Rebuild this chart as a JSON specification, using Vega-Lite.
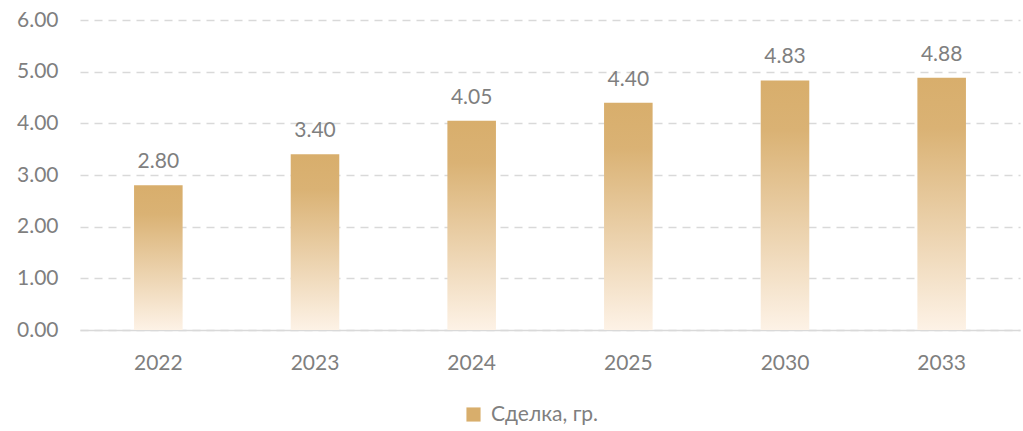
{
  "$schema": "https://vega.github.io/schema/vega-lite/v6.json",
  "width": 940,
  "height": 310,
  "autosize": {"type": "none"},
  "padding": {"left": 80, "top": 20, "right": 3, "bottom": 101},
  "background": "white",
  "data": {
    "values": [
      {"year": "2022", "value": 2.80, "series": "Сделка, гр."},
      {"year": "2023", "value": 3.40, "series": "Сделка, гр."},
      {"year": "2024", "value": 4.05, "series": "Сделка, гр."},
      {"year": "2025", "value": 4.40, "series": "Сделка, гр."},
      {"year": "2030", "value": 4.83, "series": "Сделка, гр."},
      {"year": "2033", "value": 4.88, "series": "Сделка, гр."}
    ]
  },
  "config": {
    "font": "Lato",
    "view": {"stroke": null}
  },
  "encoding": {
    "x": {
      "field": "year", "type": "nominal", "sort": null,
      "scale": {"paddingInner": 0.69, "paddingOuter": 0.345},
      "axis": {
        "title": null, "labelAngle": 0, "ticks": false,
        "domainColor": "#D9D9D9", "domainWidth": 1.5,
        "labelColor": "#7F7F7F", "labelFontSize": 21, "labelPadding": 22,
        "labelFont": "Lato"
      }
    },
    "y": {
      "field": "value", "type": "quantitative",
      "scale": {"domain": [0, 6]},
      "axis": {
        "title": null, "values": [0, 1, 2, 3, 4, 5, 6], "format": ".2f",
        "domain": false, "ticks": false,
        "gridColor": "#D9D9D9", "gridDash": [8, 6], "gridWidth": 1.3,
        "labelColor": "#7F7F7F", "labelFontSize": 21, "labelPadding": 22,
        "labelFont": "Lato"
      }
    }
  },
  "layer": [
    {
      "mark": {
        "type": "bar",
        "fill": {
          "gradient": "linear", "x1": 0, "y1": 0, "x2": 0, "y2": 1,
          "stops": [
            {"offset": 0, "color": "#D8AE6C"},
            {"offset": 0.2, "color": "#DAB274"},
            {"offset": 1, "color": "#FDF2E6"}
          ]
        }
      }
    },
    {
      "mark": {"type": "point", "shape": "square", "filled": true, "size": 0, "opacity": 1},
      "encoding": {
        "color": {
          "field": "series", "type": "nominal",
          "scale": {"range": ["#D8AE6C"]},
          "legend": {
            "title": null, "orient": "none", "legendX": 383, "legendY": 384,
            "symbolType": "square", "symbolSize": 200, "symbolOpacity": 1,
            "symbolStrokeWidth": 0,
            "encode": {
              "symbols": {
                "update": {
                  "fill": {
                    "value": {
                      "gradient": "linear", "x1": 0, "y1": 0, "x2": 0, "y2": 1,
                      "stops": [
                        {"offset": 0, "color": "#D8AE6C"},
                        {"offset": 1, "color": "#FDF2E6"}
                      ]
                    }
                  }
                }
              }
            },
            "labelOffset": 7,
            "labelColor": "#7F7F7F", "labelFontSize": 21, "labelFont": "Lato"
          }
        }
      }
    },
    {
      "mark": {
        "type": "text", "dy": -17, "baseline": "alphabetic",
        "color": "#7F7F7F", "fontSize": 21, "font": "Lato"
      },
      "encoding": {
        "text": {"field": "value", "type": "quantitative", "format": ".2f"}
      }
    }
  ]
}
